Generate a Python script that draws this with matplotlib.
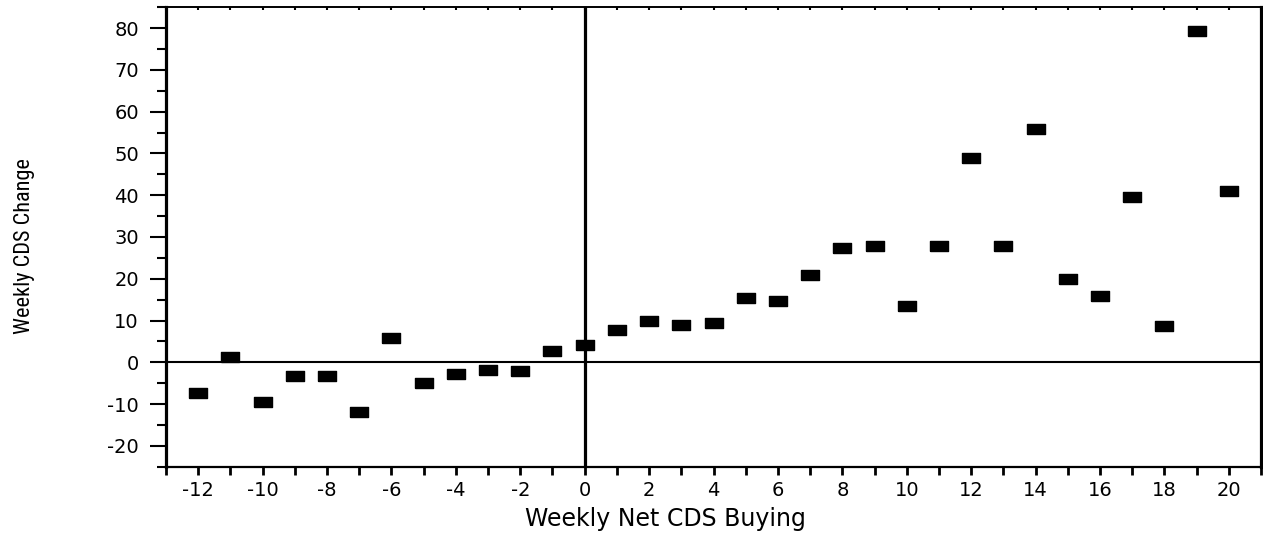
import matplotlib
matplotlib.use("Agg")
import matplotlib.pyplot as plt
from matplotlib import font_manager
from matplotlib.ticker import MultipleLocator, FixedLocator

# Data
net_buying = list(range(-12, 21))
cds_change = [-7.3, 1.2, -9.6, -3.3, -3.3, -11.8, 5.9, -5.0, -2.8, -1.9, -2.1, 2.6,
              4.2, 7.7, 10.0, 9.0, 9.5, 15.3, 14.6, 21.0, 27.3, 27.8, 13.4, 27.8,
              48.8, 27.8, 55.8, 19.9, 15.8, 39.5, 8.6, 79.3, 40.9]
x_ticks = list(range(-12, 21, 2))
y_ticks = list(range(-20, 81, 10))

plt.rcParams['font.family'] = ['DejaVu Sans']
plt.rcParams['axes.unicode_minus'] = False

# choose a condensed font for the y label if one is installed
available = {f.name for f in font_manager.fontManager.ttflist}
ylab_family, ylab_size = 'Liberation Sans', 15
for fam, size in [('Liberation Sans Narrow', 16.5), ('DejaVu Sans Condensed', 14.5),
                  ('Roboto Condensed', 16), ('Open Sans Condensed', 16)]:
    if fam in available:
        ylab_family, ylab_size = fam, size
        break

W, H = 1263, 533
fig = plt.figure(figsize=(W / 100, H / 100), dpi=100)
ax = fig.add_axes([166 / W, 1 - 466.7 / H, (1261 - 166) / W, (466.7 - 7.3) / H])

rect = [(-1, -0.55), (1, -0.55), (1, 0.55), (-1, 0.55), (-1, -0.55)]
ax.plot(net_buying, cds_change, ls='none', marker=rect, ms=12.5,
        color='black', mec='black', zorder=3)

ax.axvline(0, color='black', lw=2.3, zorder=2)
ax.axhline(0, color='black', lw=1.5, zorder=2)

ax.set_xlim(-13, 21)
ax.set_ylim(-25, 85)

ax.xaxis.set_major_locator(FixedLocator(x_ticks))
ax.xaxis.set_minor_locator(MultipleLocator(1))
ax.yaxis.set_major_locator(FixedLocator(y_ticks))
ax.yaxis.set_minor_locator(MultipleLocator(5))

ax.tick_params(axis='x', which='both', direction='out', length=5.5, width=2, pad=5,
               labelsize=14, top=False)
ax.tick_params(axis='y', which='major', direction='out', length=11.5, width=1.5, pad=8,
               labelsize=14)
ax.tick_params(axis='y', which='minor', direction='out', length=6.5, width=1.5)

sec = ax.secondary_xaxis('top')
sec.xaxis.set_major_locator(MultipleLocator(1))
sec.tick_params(direction='in', length=2, width=1.5, labeltop=False)
sec.spines['top'].set_linewidth(1.2)

ax.spines['left'].set_linewidth(2.3)
ax.spines['right'].set_linewidth(2.3)
ax.spines['bottom'].set_linewidth(1.6)
ax.spines['top'].set_linewidth(1.2)

fig.text(665 / W, 1 - 519 / H, 'Weekly Net CDS Buying', ha='center', va='center',
         fontsize=17)
fig.text(25 / W, 1 - 246 / H, 'Weekly CDS Change', rotation=90, va='center', ha='center',
         fontsize=ylab_size, family=[ylab_family, 'DejaVu Sans'])

fig.savefig('out.png', dpi=100)
